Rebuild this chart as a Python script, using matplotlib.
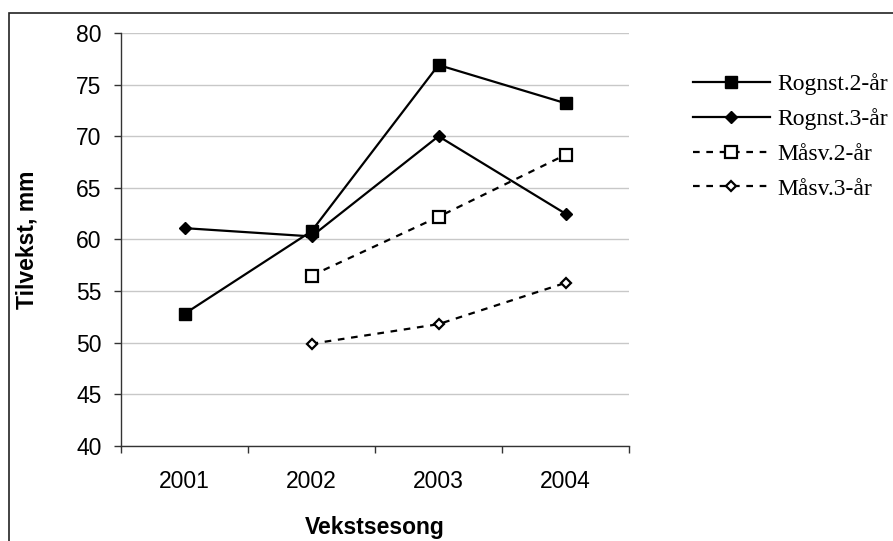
import matplotlib
matplotlib.use("Agg")
import matplotlib.pyplot as plt
from matplotlib.patches import Rectangle

# Tilvekst (mm) per vekstsesong
seasons = ["2001", "2002", "2003", "2004"]
rognst_2 = [52.8, 60.8, 76.9, 73.2]
rognst_3 = [61.1, 60.3, 70.0, 62.5]
masv_2 = [None, 56.5, 62.2, 68.2]
masv_3 = [None, 49.9, 51.8, 55.8]

y_ticks = [40, 45, 50, 55, 60, 65, 70, 75, 80]

plt.rcParams["font.family"] = "Liberation Sans"

W, H = 893, 541
fig = plt.figure(figsize=(W / 100, H / 100), dpi=100)
ax = fig.add_axes([121 / W, 1 - 446 / H, (629 - 121) / W, (446 - 33) / H])

x = list(range(1, len(seasons) + 1))


def pts(vals):
    xs = [xi for xi, v in zip(x, vals) if v is not None]
    ys = [v for v in vals if v is not None]
    return xs, ys


lw = 1.6
dash = (0, (3.0, 3.0))
ax.plot(*pts(rognst_2), color="black", lw=lw, marker="s", ms=8.8,
        mfc="black", mec="black", label="Rognst.2-år", zorder=3)
ax.plot(*pts(rognst_3), color="black", lw=lw, marker="D", ms=6.4,
        mfc="black", mec="black", label="Rognst.3-år", zorder=3)
ax.plot(*pts(masv_2), color="black", lw=lw, ls=dash, marker="s", ms=8.0,
        mfc="white", mec="black", mew=1.6, label="Måsv.2-år", zorder=3)
ax.plot(*pts(masv_3), color="black", lw=lw, ls=dash, marker="D", ms=5.6,
        mfc="white", mec="black", mew=1.6, label="Måsv.3-år", zorder=3)

ax.set_xlim(0.5, len(seasons) + 0.5)
ax.set_ylim(40, 80)
ax.set_yticks(y_ticks)
ax.set_xticks(x)
ax.set_xticklabels(seasons)
ax.set_xticks([i + 0.5 for i in range(len(seasons) + 1)], minor=True)

ax.tick_params(axis="x", which="major", length=0, pad=17, labelsize=16.5)
ax.tick_params(axis="x", which="minor", length=5, width=1, direction="out", color="#333333")
ax.tick_params(axis="y", length=5, width=1, direction="out", pad=9, labelsize=16.5, color="#333333")

ax.grid(axis="y", color="#c8c8c8", lw=1)
ax.set_axisbelow(True)
for s in ("top", "right"):
    ax.spines[s].set_visible(False)
for s in ("left", "bottom"):
    ax.spines[s].set_color("#333333")
    ax.spines[s].set_linewidth(1)

ax.set_xlabel("Vekstsesong", fontsize=16.5, fontweight="bold", labelpad=17)
ax.set_ylabel("Tilvekst, mm", fontsize=16.5, fontweight="bold", labelpad=27)

ax.legend(loc="upper left", bbox_to_anchor=(693 / W, 1 - 73 / H),
          bbox_transform=fig.transFigure, frameon=False,
          prop={"family": "Liberation Serif", "size": 17},
          handlelength=3.26, handletextpad=0.3, labelspacing=0.56,
          borderpad=0, borderaxespad=0)

# chart-area frame (runs off the right and bottom edges)
fig.add_artist(Rectangle((8.5 / W, -0.1), 1.2, 1 - 13 / H + 0.1,
                         transform=fig.transFigure, fill=False,
                         edgecolor="#222222", lw=1.2, clip_on=False))

fig.savefig("out.png", dpi=100)
